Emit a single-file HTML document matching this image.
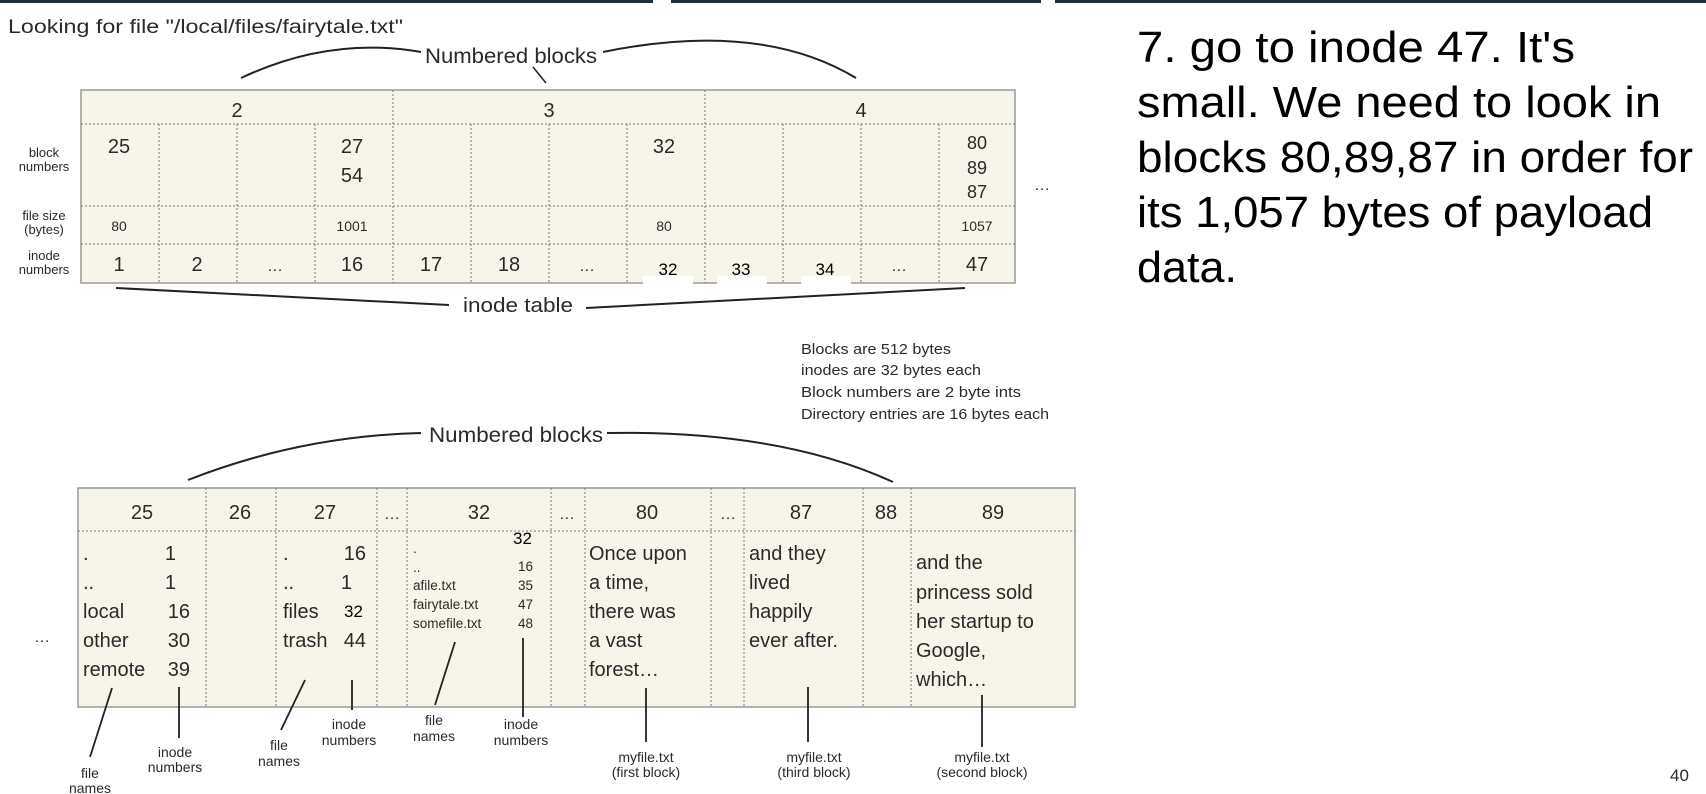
<!DOCTYPE html>
<html><head><meta charset="utf-8"><style>
html,body{margin:0;padding:0;background:#fff;}
svg{display:block;}
.d{font-family:"Liberation Sans",sans-serif;fill:#2a2a2a;}
.b{font-family:"Liberation Sans",sans-serif;fill:#000;}
</style></head><body>
<svg width="1706" height="794" viewBox="0 0 1706 794" xmlns="http://www.w3.org/2000/svg">
<rect x="0" y="0" width="653" height="3" fill="#1f2d3d"/>
<rect x="671" y="0" width="370" height="3" fill="#1f2d3d"/>
<rect x="1055" y="0" width="651" height="3" fill="#1f2d3d"/>

<text class="d" x="8" y="33" font-size="19" textLength="395" lengthAdjust="spacingAndGlyphs">Looking for file "/local/files/fairytale.txt"</text>

<text class="d" x="425" y="63" font-size="21" textLength="172" lengthAdjust="spacingAndGlyphs">Numbered blocks</text>
<g fill="none" stroke="#222" stroke-width="2">
<path d="M241,78 Q330,36 421,52"/>
<path d="M603,52 Q760,20 856,78"/>
<path d="M533,67 L546,83" stroke-width="1.5"/>
</g>

<rect x="81" y="90" width="934" height="193" fill="#f7f5ea" stroke="#999" stroke-width="1.5"/>
<g stroke="#777" stroke-width="1" stroke-dasharray="2,2">
<line x1="81" y1="124" x2="1015" y2="124"/>
<line x1="81" y1="206" x2="1015" y2="206"/>
<line x1="81" y1="244" x2="1015" y2="244"/>
<line x1="393" y1="90" x2="393" y2="283"/>
<line x1="705" y1="90" x2="705" y2="283"/>
<line x1="159" y1="124" x2="159" y2="283"/><line x1="237" y1="124" x2="237" y2="283"/><line x1="315" y1="124" x2="315" y2="283"/>
<line x1="471" y1="124" x2="471" y2="283"/><line x1="549" y1="124" x2="549" y2="283"/><line x1="627" y1="124" x2="627" y2="283"/>
<line x1="783" y1="124" x2="783" y2="283"/><line x1="861" y1="124" x2="861" y2="283"/><line x1="939" y1="124" x2="939" y2="283"/>
</g>
<g class="d" font-size="20" text-anchor="middle">
<text x="237" y="117">2</text><text x="549" y="117">3</text><text x="861" y="117">4</text>
<text x="119" y="153">25</text>
<text x="352" y="153">27</text><text x="352" y="182">54</text>
<text x="664" y="153">32</text>
<text x="977" y="149" font-size="18">80</text><text x="977" y="174" font-size="18">89</text><text x="977" y="198" font-size="18">87</text>
<text x="119" y="271">1</text><text x="197" y="271">2</text><text x="275" y="271" font-size="16">…</text><text x="352" y="271">16</text>
<text x="431" y="271">17</text><text x="509" y="271">18</text><text x="587" y="271" font-size="16">…</text>
<text x="899" y="271" font-size="16">…</text><text x="977" y="271">47</text>
</g>
<g class="d" font-size="14" text-anchor="middle">
<text x="119" y="231">80</text><text x="352" y="231">1001</text><text x="664" y="231">80</text><text x="977" y="231">1057</text>
</g>
<g class="d" font-size="13" text-anchor="middle">
<text x="44" y="157">block</text><text x="44" y="171">numbers</text>
<text x="44" y="220">file size</text><text x="44" y="234">(bytes)</text>
<text x="44" y="260">inode</text><text x="44" y="274">numbers</text>
</g>
<rect x="643" y="276" width="50" height="11" fill="#fff"/>
<rect x="717" y="276" width="50" height="11" fill="#fff"/>
<rect x="801" y="276" width="50" height="11" fill="#fff"/>
<g class="b" font-size="17" text-anchor="middle">
<text x="668" y="275">32</text><text x="741" y="275">33</text><text x="825" y="275">34</text>
</g>
<text class="d" x="1042" y="190" font-size="16" text-anchor="middle">…</text>

<g fill="none" stroke="#222" stroke-width="2">
<path d="M116,288 L449,305"/><path d="M586,308 L965,288"/>
</g>
<text class="d" x="463" y="312" font-size="20" textLength="110" lengthAdjust="spacingAndGlyphs">inode table</text>

<g class="d" font-size="14.5">
<text x="801" y="354" textLength="150" lengthAdjust="spacingAndGlyphs">Blocks are 512 bytes</text>
<text x="801" y="375" textLength="180" lengthAdjust="spacingAndGlyphs">inodes are 32 bytes each</text>
<text x="801" y="397" textLength="220" lengthAdjust="spacingAndGlyphs">Block numbers are 2 byte ints</text>
<text x="801" y="419" textLength="248" lengthAdjust="spacingAndGlyphs">Directory entries are 16 bytes each</text>
</g>

<text class="d" x="429" y="442" font-size="21" textLength="174" lengthAdjust="spacingAndGlyphs">Numbered blocks</text>
<g fill="none" stroke="#222" stroke-width="2">
<path d="M188,480 Q300,436 421,433"/>
<path d="M607,433 Q780,430 893,482"/>
</g>

<rect x="78" y="488" width="997" height="219" fill="#f7f5ea" stroke="#999" stroke-width="1.5"/>
<g stroke="#777" stroke-width="1" stroke-dasharray="2,2">
<line x1="78" y1="531" x2="1075" y2="531"/>
<line x1="206" y1="488" x2="206" y2="707"/><line x1="276" y1="488" x2="276" y2="707"/>
<line x1="377" y1="488" x2="377" y2="707"/><line x1="407" y1="488" x2="407" y2="707"/>
<line x1="551" y1="488" x2="551" y2="707"/><line x1="585" y1="488" x2="585" y2="707"/>
<line x1="711" y1="488" x2="711" y2="707"/><line x1="744" y1="488" x2="744" y2="707"/>
<line x1="863" y1="488" x2="863" y2="707"/><line x1="911" y1="488" x2="911" y2="707"/>
</g>
<g class="d" font-size="20" text-anchor="middle">
<text x="142" y="519">25</text><text x="240" y="519">26</text><text x="325" y="519">27</text>
<text x="392" y="519" font-size="16">…</text><text x="479" y="519">32</text>
<text x="567" y="519" font-size="16">…</text><text x="647" y="519">80</text>
<text x="728" y="519" font-size="16">…</text><text x="801" y="519">87</text>
<text x="886" y="519">88</text><text x="993" y="519">89</text>
</g>
<g class="d" font-size="20">
<text x="83" y="560">.</text><text x="83" y="589">..</text><text x="83" y="618">local</text><text x="83" y="647">other</text><text x="83" y="676">remote</text>
</g>
<g class="d" font-size="20" text-anchor="end">
<text x="176" y="560">1</text><text x="176" y="589">1</text><text x="190" y="618">16</text><text x="190" y="647">30</text><text x="190" y="676">39</text>
<text x="366" y="560">16</text><text x="352" y="589">1</text><text x="366" y="647">44</text>
</g>
<g class="d" font-size="20">
<text x="283" y="560">.</text><text x="283" y="589">..</text><text x="283" y="618">files</text><text x="283" y="647">trash</text>
</g>
<text class="b" x="344" y="617" font-size="17">32</text>
<g class="d" font-size="13.5">
<text x="413" y="553">.</text><text x="413" y="572">..</text>
<text x="413" y="590">afile.txt</text><text x="413" y="609">fairytale.txt</text><text x="413" y="628">somefile.txt</text>
<text x="518" y="571">16</text><text x="518" y="590">35</text><text x="518" y="609">47</text><text x="518" y="628">48</text>
</g>
<text class="b" x="513" y="544" font-size="17">32</text>
<g class="d" font-size="20">
<text x="589" y="560">Once upon</text><text x="589" y="589">a time,</text><text x="589" y="618">there was</text><text x="589" y="647">a vast</text><text x="589" y="676">forest…</text>
<text x="749" y="560">and they</text><text x="749" y="589">lived</text><text x="749" y="618">happily</text><text x="749" y="647">ever after.</text>
<text x="916" y="569">and the</text><text x="916" y="599">princess sold</text><text x="916" y="628">her startup to</text><text x="916" y="657">Google,</text><text x="916" y="686">which…</text>
</g>
<text class="d" x="42" y="642" font-size="16" text-anchor="middle">…</text>

<g fill="none" stroke="#222" stroke-width="1.8">
<line x1="112" y1="688" x2="90" y2="757"/>
<line x1="179" y1="687" x2="179" y2="738"/>
<line x1="305" y1="680" x2="281" y2="730"/>
<line x1="352" y1="680" x2="352" y2="710"/>
<line x1="455" y1="642" x2="435" y2="705"/>
<line x1="523" y1="638" x2="523" y2="717"/>
<line x1="646" y1="688" x2="646" y2="742"/>
<line x1="808" y1="687" x2="808" y2="742"/>
<line x1="982" y1="695" x2="982" y2="747"/>
</g>
<g class="d" font-size="14" text-anchor="middle">
<text x="90" y="778">file</text><text x="90" y="793">names</text>
<text x="175" y="757">inode</text><text x="175" y="772">numbers</text>
<text x="279" y="750">file</text><text x="279" y="766">names</text>
<text x="349" y="729">inode</text><text x="349" y="745">numbers</text>
<text x="434" y="725">file</text><text x="434" y="741">names</text>
<text x="521" y="729">inode</text><text x="521" y="745">numbers</text>
<text x="646" y="762">myfile.txt</text><text x="646" y="777">(first block)</text>
<text x="814" y="762">myfile.txt</text><text x="814" y="777">(third block)</text>
<text x="982" y="762">myfile.txt</text><text x="982" y="777">(second block)</text>
</g>

<g class="b" font-size="44">
<text x="1137" y="62" textLength="438" lengthAdjust="spacingAndGlyphs">7. go to inode 47.  It's</text>
<text x="1137" y="117" textLength="524" lengthAdjust="spacingAndGlyphs">small.  We need to look in</text>
<text x="1137" y="172" textLength="556" lengthAdjust="spacingAndGlyphs">blocks 80,89,87 in order for</text>
<text x="1137" y="227" textLength="516" lengthAdjust="spacingAndGlyphs">its 1,057 bytes of payload</text>
<text x="1137" y="282" textLength="100" lengthAdjust="spacingAndGlyphs">data.</text>
</g>
<text class="d" x="1670" y="781" font-size="17" fill="#555">40</text>
</svg>
</body></html>
